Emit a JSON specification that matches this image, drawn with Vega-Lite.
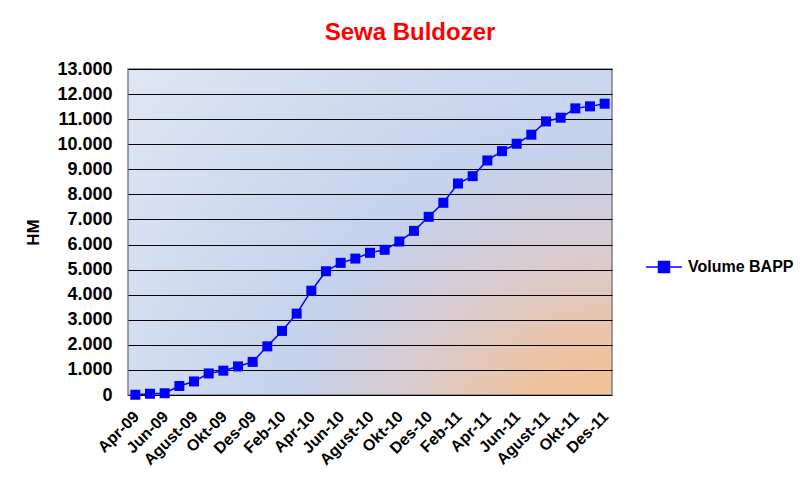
{
  "$schema": "https://vega.github.io/schema/vega-lite/v6.json",
  "width": 484,
  "height": 326,
  "autosize": {"type": "none"},
  "padding": {"left": 128, "top": 69, "right": 197, "bottom": 84},
  "background": "white",
  "title": {
    "text": "Sewa Buldozer",
    "color": "#ff0000",
    "font": "Liberation Sans",
    "fontSize": 24,
    "fontWeight": "bold",
    "anchor": "middle",
    "dx": 40,
    "offset": 15
  },
  "view": {
    "stroke": "#808080",
    "strokeWidth": 1.5,
    "fill": {
      "gradient": "radial",
      "x1": 1, "y1": 1, "r1": 0,
      "x2": 1, "y2": 1, "r2": 1.45,
      "stops": [
        {"offset": 0, "color": "#f9bc86"},
        {"offset": 0.17, "color": "#efc3a0"},
        {"offset": 0.32, "color": "#d9cbd0"},
        {"offset": 0.47, "color": "#c4d2ed"},
        {"offset": 0.97, "color": "#e4eaf6"}
      ]
    }
  },
  "data": {
    "values": [
      {"bulan": "Apr-09", "seri": "Volume BAPP", "hm": 10},
      {"bulan": "Mei-09", "seri": "Volume BAPP", "hm": 50},
      {"bulan": "Jun-09", "seri": "Volume BAPP", "hm": 70},
      {"bulan": "Jul-09", "seri": "Volume BAPP", "hm": 360},
      {"bulan": "Agust-09", "seri": "Volume BAPP", "hm": 540},
      {"bulan": "Sep-09", "seri": "Volume BAPP", "hm": 860},
      {"bulan": "Okt-09", "seri": "Volume BAPP", "hm": 970},
      {"bulan": "Nov-09", "seri": "Volume BAPP", "hm": 1140},
      {"bulan": "Des-09", "seri": "Volume BAPP", "hm": 1320},
      {"bulan": "Jan-10", "seri": "Volume BAPP", "hm": 1940},
      {"bulan": "Feb-10", "seri": "Volume BAPP", "hm": 2555},
      {"bulan": "Mar-10", "seri": "Volume BAPP", "hm": 3245},
      {"bulan": "Apr-10", "seri": "Volume BAPP", "hm": 4160},
      {"bulan": "Mei-10", "seri": "Volume BAPP", "hm": 4935},
      {"bulan": "Jun-10", "seri": "Volume BAPP", "hm": 5270},
      {"bulan": "Jul-10", "seri": "Volume BAPP", "hm": 5440},
      {"bulan": "Agust-10", "seri": "Volume BAPP", "hm": 5670},
      {"bulan": "Sep-10", "seri": "Volume BAPP", "hm": 5790},
      {"bulan": "Okt-10", "seri": "Volume BAPP", "hm": 6120},
      {"bulan": "Nov-10", "seri": "Volume BAPP", "hm": 6545},
      {"bulan": "Des-10", "seri": "Volume BAPP", "hm": 7105},
      {"bulan": "Jan-11", "seri": "Volume BAPP", "hm": 7665},
      {"bulan": "Feb-11", "seri": "Volume BAPP", "hm": 8435},
      {"bulan": "Mar-11", "seri": "Volume BAPP", "hm": 8727},
      {"bulan": "Apr-11", "seri": "Volume BAPP", "hm": 9353},
      {"bulan": "Mei-11", "seri": "Volume BAPP", "hm": 9725},
      {"bulan": "Jun-11", "seri": "Volume BAPP", "hm": 10020},
      {"bulan": "Jul-11", "seri": "Volume BAPP", "hm": 10380},
      {"bulan": "Agust-11", "seri": "Volume BAPP", "hm": 10910},
      {"bulan": "Sep-11", "seri": "Volume BAPP", "hm": 11058},
      {"bulan": "Okt-11", "seri": "Volume BAPP", "hm": 11430},
      {"bulan": "Nov-11", "seri": "Volume BAPP", "hm": 11510},
      {"bulan": "Des-11", "seri": "Volume BAPP", "hm": 11617}
    ]
  },
  "mark": {
    "type": "line",
    "strokeWidth": 1.5,
    "point": {"shape": "square", "size": 100, "filled": true, "opacity": 1}
  },
  "encoding": {
    "x": {
      "field": "bulan",
      "type": "ordinal",
      "sort": null,
      "scale": {"type": "point", "padding": 0.5},
      "axis": {
        "title": null,
        "values": ["Apr-09", "Jun-09", "Agust-09", "Okt-09", "Des-09", "Feb-10", "Apr-10", "Jun-10", "Agust-10", "Okt-10", "Des-10", "Feb-11", "Apr-11", "Jun-11", "Agust-11", "Okt-11", "Des-11"],
        "labelAngle": -45,
        "labelFont": "Liberation Sans",
        "labelFontSize": 16,
        "labelFontWeight": "bold",
        "labelColor": "#000000",
        "labelPadding": 13,
        "labelOffset": -5,
        "labelOverlap": false,
        "ticks": false,
        "domain": false,
        "grid": false
      }
    },
    "y": {
      "field": "hm",
      "type": "quantitative",
      "scale": {"domain": [0, 13000], "nice": false},
      "axis": {
        "title": "HM",
        "titleFont": "Liberation Sans",
        "titleFontSize": 17,
        "titleFontWeight": "bold",
        "titleColor": "#000000",
        "titlePadding": 14,
        "values": [0, 1000, 2000, 3000, 4000, 5000, 6000, 7000, 8000, 9000, 10000, 11000, 12000, 13000],
        "format": ",d",
        "labelExpr": "replace(datum.label, ',', '.')",
        "labelFont": "Liberation Sans",
        "labelFontSize": 18,
        "labelFontWeight": "bold",
        "labelColor": "#000000",
        "labelPadding": 16,
        "ticks": false,
        "domain": false,
        "grid": true,
        "gridColor": "#000000",
        "gridOpacity": 1,
        "gridWidth": 1
      }
    },
    "color": {
      "field": "seri",
      "type": "nominal",
      "scale": {"range": ["#0000ff"]},
      "legend": {
        "title": null,
        "orient": "none",
        "legendX": 517,
        "legendY": 179,
        "padding": 0,
        "symbolType": "M-1,0L1,0M-0.306,-0.306L0.306,-0.306L0.306,0.306L-0.306,0.306Z",
        "symbolSize": 1296,
        "symbolStrokeWidth": 1.5,
        "symbolFillColor": "#0000ff",
        "symbolStrokeColor": "#0000ff",
        "labelFont": "Liberation Sans",
        "labelFontSize": 16,
        "labelFontWeight": "bold",
        "labelColor": "#000000",
        "labelOffset": 5,
        "labelLimit": 300
      }
    }
  }
}
